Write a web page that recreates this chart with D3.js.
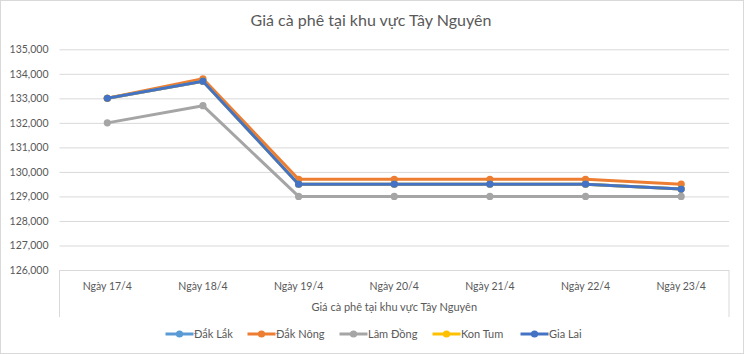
<!DOCTYPE html>
<html>
<head>
<meta charset="utf-8">
<script src="https://cdn.jsdelivr.net/npm/d3@7"></script>
<style>
    body { margin: 0; background: #fff; }
    svg text { font-family: Lato, "Open Sans", sans-serif; fill: #595959; }
</style>
</head>
<body>
<div id="chart"></div>
<script>
// data
const days = ["Ngày 17/4", "Ngày 18/4", "Ngày 19/4", "Ngày 20/4", "Ngày 21/4", "Ngày 22/4", "Ngày 23/4"];
const seriesNames = ["Đắk Lắk", "Đắk Nông", "Lâm Đồng", "Kon Tum", "Gia Lai"];
const dakLak = [133000, 133700, 129500, 129500, 129500, 129500, 129300];
const dakNong = [133000, 133800, 129700, 129700, 129700, 129700, 129500];
const lamDong = [132000, 132700, 129000, 129000, 129000, 129000, 129000];
const konTum = [133000, 133700, 129500, 129500, 129500, 129500, 129300];
const giaLai = [133000, 133700, 129500, 129500, 129500, 129500, 129300];
const yTicks = [126000, 127000, 128000, 129000, 130000, 131000, 132000, 133000, 134000, 135000];
const colors = ["#5B9BD5", "#ED7D31", "#A5A5A5", "#FFC000", "#4472C4"];
const title = "Giá cà phê tại khu vực Tây Nguyên";

const series = [dakLak, dakNong, lamDong, konTum, giaLai].map((v, i) => ({ name: seriesNames[i], values: v, color: colors[i] }));

const width = 744, height = 354;
const plot = { left: 59.5, right: 729, top: 49.3, bottom: 270 };

const svg = d3.select("#chart").append("svg")
    .attr("width", width)
    .attr("height", height);

// chart border
svg.append("rect")
    .attr("x", 0.5).attr("y", 0.5)
    .attr("width", width - 1).attr("height", height - 1)
    .attr("fill", "#fff")
    .attr("stroke", "#D9D9D9");

const x = d3.scaleBand().domain(days).range([plot.left, plot.right]);
const y = d3.scaleLinear().domain([126000, 135000]).range([plot.bottom, plot.top]);

// title
svg.append("text")
    .attr("x", 371).attr("y", 26)
    .attr("text-anchor", "middle")
    .style("font-size", "16px")
    .text(title);

// gridlines + y labels
const yAxis = svg.append("g")
    .attr("transform", `translate(${plot.left},0)`)
    .call(d3.axisLeft(y).tickValues(yTicks).tickSize(-(plot.right - plot.left)).tickPadding(11)
        .tickFormat(d3.format(",")));
yAxis.select(".domain").remove();
yAxis.selectAll(".tick line").attr("stroke", "#D9D9D9");
yAxis.selectAll(".tick text").style("font-size", "10.5px").attr("fill", "#595959");

// category axis box (multi-level)
const boxBottom = 317;
const axisBox = svg.append("g").attr("fill", "none").attr("stroke", "#D9D9D9");
axisBox.append("line").attr("x1", plot.left).attr("x2", plot.right).attr("y1", plot.bottom + 0.5).attr("y2", plot.bottom + 0.5);
axisBox.append("line").attr("x1", plot.left).attr("x2", plot.left).attr("y1", plot.bottom).attr("y2", boxBottom);
axisBox.append("line").attr("x1", plot.right).attr("x2", plot.right).attr("y1", plot.bottom).attr("y2", boxBottom);

svg.append("g").selectAll("text")
    .data(days)
    .enter().append("text")
    .attr("x", d => x(d) + x.bandwidth() / 2)
    .attr("y", 290)
    .attr("text-anchor", "middle")
    .style("font-size", "10.5px")
    .text(d => d);

svg.append("text")
    .attr("x", (plot.left + plot.right) / 2)
    .attr("y", 311)
    .attr("text-anchor", "middle")
    .style("font-size", "11px")
    .text(title);

// lines
const line = d3.line()
    .x((d, i) => x(days[i]) + x.bandwidth() / 2)
    .y(d => y(d));

const lines = svg.selectAll(".series")
    .data(series)
    .enter().append("g")
    .attr("class", "series");

lines.append("path")
    .attr("d", d => line(d.values))
    .attr("fill", "none")
    .attr("stroke", d => d.color)
    .attr("stroke-width", 3)
    .attr("stroke-linejoin", "round");

lines.each(function (s) {
    d3.select(this).selectAll("circle")
        .data(s.values)
        .enter().append("circle")
        .attr("cx", (d, i) => x(days[i]) + x.bandwidth() / 2)
        .attr("cy", d => y(d))
        .attr("r", 3.6)
        .attr("fill", s.color);
});

// legend
const legendX = [165.5, 247.5, 339.5, 432.5, 520.5];
const legendY = 334;
const legend = svg.append("g").selectAll("g")
    .data(series)
    .enter().append("g")
    .attr("transform", (d, i) => `translate(${legendX[i]},${legendY})`);

legend.append("line")
    .attr("x1", 0).attr("x2", 28)
    .attr("stroke", d => d.color)
    .attr("stroke-width", 3);

legend.append("circle")
    .attr("cx", 14).attr("r", 3.6)
    .attr("fill", d => d.color);

legend.append("text")
    .attr("x", 28.5).attr("y", 4)
    .style("font-size", "11px")
    .text(d => d.name);
</script>
</body>
</html>
